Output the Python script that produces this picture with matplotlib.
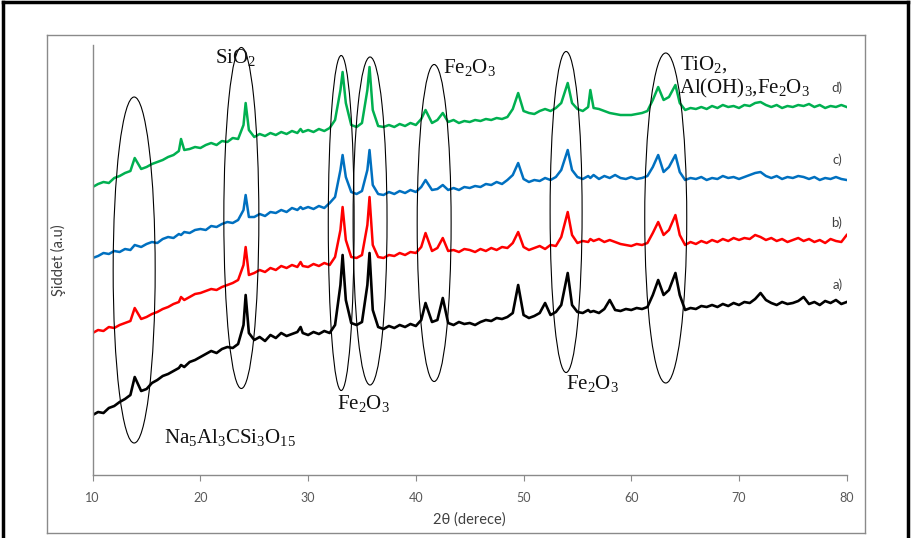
import matplotlib
matplotlib.use("Agg")
import matplotlib.pyplot as plt
from matplotlib.patches import Ellipse
from matplotlib.lines import Line2D

plt.rcParams['mathtext.fontset'] = 'custom'
plt.rcParams['mathtext.rm'] = 'Liberation Serif'
plt.rcParams['mathtext.it'] = 'Liberation Serif:italic'
plt.rcParams['mathtext.bf'] = 'Liberation Serif:bold'

# ---------------- data ----------------
two_theta = [
    10.0, 10.5, 11.0, 11.5, 12.0, 12.5, 13.0, 13.5, 13.9, 14.5,
    15.0, 15.5, 16.0, 16.5, 17.0, 17.5, 18.0, 18.2, 18.5, 19.0, 19.5,
    20.0, 20.5, 21.0, 21.5, 22.0, 22.5, 23.0, 23.5, 24.0, 24.2, 24.5,
    25.0, 25.5, 26.0, 26.5, 27.0, 27.5, 28.0, 28.5, 29.0, 29.3, 29.5,
    30.0, 30.5, 31.0, 31.5, 32.0, 32.5, 33.0, 33.2, 33.5, 34.0, 34.5,
    35.0, 35.5, 35.7, 36.0, 36.5, 37.0, 37.5, 38.0, 38.5, 39.0, 39.5,
    40.0, 40.5, 40.9, 41.5, 42.0, 42.5, 43.0, 43.5, 44.0, 44.5,
    45.0, 45.5, 46.0, 46.5, 47.0, 47.5, 48.0, 48.5, 49.0, 49.5,
    50.0, 50.5, 51.0, 51.5, 52.0, 52.5, 53.0, 53.5, 54.1, 54.5,
    55.0, 55.5, 56.0, 56.2, 56.5, 57.0, 57.5, 58.0, 58.5, 59.0, 59.5,
    60.0, 60.5, 61.0, 61.5, 62.0, 62.5, 63.0, 63.5, 64.1, 64.5,
    65.0, 65.5, 66.0, 66.5, 67.0, 67.5, 68.0, 68.5, 69.0, 69.5,
    70.0, 70.5, 71.0, 71.5, 72.0, 72.5, 73.0, 73.5, 74.0, 74.5,
    75.0, 75.5, 76.0, 76.5, 77.0, 77.5, 78.0, 78.5, 79.0, 79.5, 80.0,
]

series_a = [
    60, 63, 62, 67, 69, 73, 76, 80, 98, 84,
    86, 92, 95, 99, 101, 104, 107, 110, 108, 113, 115,
    118, 121, 124, 122, 126, 128, 127, 131, 150, 180, 142,
    135, 138, 134, 140, 137, 142, 139, 141, 143, 148, 142,
    140, 143, 141, 144, 142, 150, 190, 220, 175, 152, 150,
    153, 190, 222, 165, 148, 146, 149, 147, 150, 148, 151,
    149, 155, 172, 153, 155, 177, 152, 150, 153, 151,
    152, 150, 153, 155, 154, 157, 156, 158, 162, 190,
    160, 157, 159, 162, 172, 160, 163, 170, 202, 170,
    163, 162, 165, 163, 164, 162, 166, 175, 165, 164, 166,
    165, 167, 166, 168, 180, 195, 180, 185, 202, 180,
    165, 167, 166, 169, 168, 170, 168, 171, 169, 172,
    170, 173, 172, 176, 182, 175, 172, 170, 173, 171,
    172, 174, 178, 171, 173, 170, 174, 172, 175, 171, 173,
]

series_b = [
    142, 145, 144, 148, 147, 150, 152, 154, 167, 156,
    158, 161, 163, 166, 168, 171, 173, 178, 175, 178, 181,
    182, 184, 186, 185, 188, 190, 192, 195, 210, 228, 200,
    202, 205, 203, 207, 205, 209, 207, 210, 208, 213, 209,
    208, 211, 209, 212, 210, 218, 245, 268, 235, 218, 217,
    220, 250, 278, 230, 218, 217, 220, 219, 222, 220, 223,
    222, 228, 242, 224, 227, 237, 224, 225, 223, 226,
    225, 223, 226, 224, 227, 225, 228, 227, 232, 243,
    228, 225, 227, 229, 226, 230, 229, 238, 263, 240,
    232, 234, 233, 236, 234, 236, 233, 235, 233, 231, 230,
    229, 231, 230, 232, 242, 253, 240, 245, 260, 240,
    230, 233, 231, 234, 232, 235, 233, 236, 234, 237,
    235, 237, 236, 240, 238, 235, 237, 234, 236, 233,
    235, 237, 234, 236, 233, 235, 232, 236, 234, 233, 240,
]

series_c = [
    217, 219, 222, 221, 224, 223, 226, 225, 230, 228,
    231, 233, 232, 236, 238, 237, 241, 240, 243, 242, 245,
    246, 245, 249, 248, 251, 253, 252, 255, 265, 280, 258,
    258, 261, 259, 263, 262, 265, 263, 267, 265, 268, 266,
    268, 266, 269, 267, 272, 278, 305, 320, 298, 283, 281,
    284, 305, 325, 290, 281, 280, 283, 281, 284, 282, 285,
    283, 288, 295, 285, 286, 290, 285, 287, 285, 288,
    287, 289, 288, 291, 290, 293, 291, 295, 300, 312,
    296, 293, 295, 294, 297, 295, 298, 305, 325, 305,
    298, 296, 299, 297, 300, 296, 299, 297, 300, 297, 296,
    298, 296, 297, 299, 308, 320, 303, 308, 320, 303,
    295, 297, 296, 298, 295, 297, 296, 299, 297, 298,
    296, 298, 300, 302, 303, 299, 297, 299, 296, 298,
    297, 299, 298, 296, 298, 295, 297, 296, 298, 296, 295,
]

series_d = [
    288, 291, 293, 292, 297, 299, 302, 304, 317, 306,
    308, 311, 313, 315, 318, 320, 324, 336, 325, 326, 328,
    327, 330, 332, 330, 334, 333, 337, 336, 350, 372, 345,
    338, 341, 339, 342, 340, 343, 341, 344, 342, 346, 343,
    345, 343, 346, 344, 347, 355, 385, 403, 372, 350, 348,
    352, 385, 408, 365, 349, 348, 350, 348, 351, 349, 352,
    350, 356, 365, 352, 355, 362, 353, 355, 352, 354,
    353, 355, 354, 356, 355, 357, 356, 358, 366, 382,
    364, 362, 361, 364, 366, 364, 367, 372, 392, 372,
    366, 364, 368, 385, 367, 366, 364, 362, 361, 360, 360,
    360, 361, 362, 364, 375, 388, 375, 378, 390, 372,
    365, 367, 366, 368, 366, 369, 367, 370, 368, 369,
    367, 370, 369, 372, 373, 370, 368, 370, 367, 369,
    368, 370, 369, 371, 368, 370, 367, 369, 368, 370, 368,
]

series_labels = ["a)", "b)", "c)", "d)"]
series_colors = ["#000000", "#FF0000", "#0070C0", "#00B050"]

x_ticks = [10, 20, 30, 40, 50, 60, 70, 80]

# highlighted peak regions: (centre 2theta, centre intensity, width, height)
ellipse_cx = [13.85, 23.8, 33.07, 35.75, 41.7, 53.95, 63.2]
ellipse_cy = [205, 257, 252, 254, 252, 263, 257]
ellipse_w = [3.9, 3.25, 2.4, 3.15, 3.15, 2.97, 3.9]
ellipse_h = [346, 341, 335, 328, 317, 321, 330]

phase_texts = [r"$\mathrm{SiO_2}$", r"$\mathrm{Fe_2O_3}$", r"$\mathrm{Fe_2O_3}$",
               r"$\mathrm{Na_5Al_3CSi_3O_{15}}$", r"$\mathrm{Fe_2O_3}$",
               r"$\mathrm{TiO_2{,}}$", r"$\mathrm{Al(OH)_3{,}Fe_2O_3}$"]

# ---------------- figure ----------------
W, H = 914, 538
fig = plt.figure(figsize=(W / 100, H / 100), dpi=100)
fig.patch.set_facecolor("white")

def fx(px):
    return px / W

def fy(py):
    return 1 - py / H

# outer black border (top, left, right)
for xs, ys in [([3, 908], [2, 2]), ([3, 3], [2, 538]), ([908, 908], [2, 538])]:
    fig.add_artist(Line2D([fx(v) for v in xs], [fy(v) for v in ys],
                          color="black", lw=2.5, transform=fig.transFigure))
# inner gray chart frame
for xs, ys in [([47, 865], [35, 35]), ([47, 47], [35, 533]),
               ([865, 865], [35, 533]), ([47, 865], [533, 533])]:
    fig.add_artist(Line2D([fx(v) for v in xs], [fy(v) for v in ys],
                          color="#8a8a8a", lw=1.0, transform=fig.transFigure))

ax = fig.add_axes([fx(92.7), fy(475), (846.7 - 92.7) / W, (475 - 45) / H])
ax.set_xlim(10, 80)
ax.set_ylim(0, 430)

for ys, col in zip([series_a, series_b, series_c, series_d], series_colors):
    ax.plot(two_theta, ys, color=col, lw=1.9 if col == "#000000" else 1.8,
            solid_joinstyle="round")

for cx, cy, w, h in zip(ellipse_cx, ellipse_cy, ellipse_w, ellipse_h):
    ax.add_patch(Ellipse((cx, cy), w, h, fill=False, ec="black", lw=0.8,
                         clip_on=False, zorder=5))

for s in ["top", "right"]:
    ax.spines[s].set_visible(False)
for s in ["left", "bottom"]:
    ax.spines[s].set_color("#8a8a8a")
    ax.spines[s].set_linewidth(1.0)

ax.set_yticks([])
ax.set_xticks(x_ticks)
ax.set_xticklabels([str(t) for t in x_ticks], fontsize=9, color="#595959",
                   family="Lato")
ax.tick_params(axis="x", direction="out", length=4, color="#8a8a8a", pad=8)

ax.set_xlabel("2θ (derece)", fontsize=10.5, color="#404040", family="Lato",
              labelpad=6)
ax.set_ylabel("Şiddet (a.u)", fontsize=10.5, color="#404040", family="Lato",
              labelpad=19)

# phase annotations
tpos = [(23.3, 417, "center"), (45.0, 408, "center"), (35.1, 72, "center"),
        (22.75, 37, "center"), (56.4, 92, "center"), (64.55, 410, "left"),
        (64.4, 387, "left")]
for (tx, ty, ha), t in zip(tpos, phase_texts):
    ax.text(tx, ty, t, fontsize=15, ha=ha, va="center", color="#111111",
            zorder=6)

# series labels
for lab, ly in zip(series_labels, [190, 252, 315, 387]):
    ax.text(79.6, ly, lab, fontsize=9.5, ha="right", va="center",
            color="#404040", family="Lato")

fig.savefig("out.png", dpi=100)
